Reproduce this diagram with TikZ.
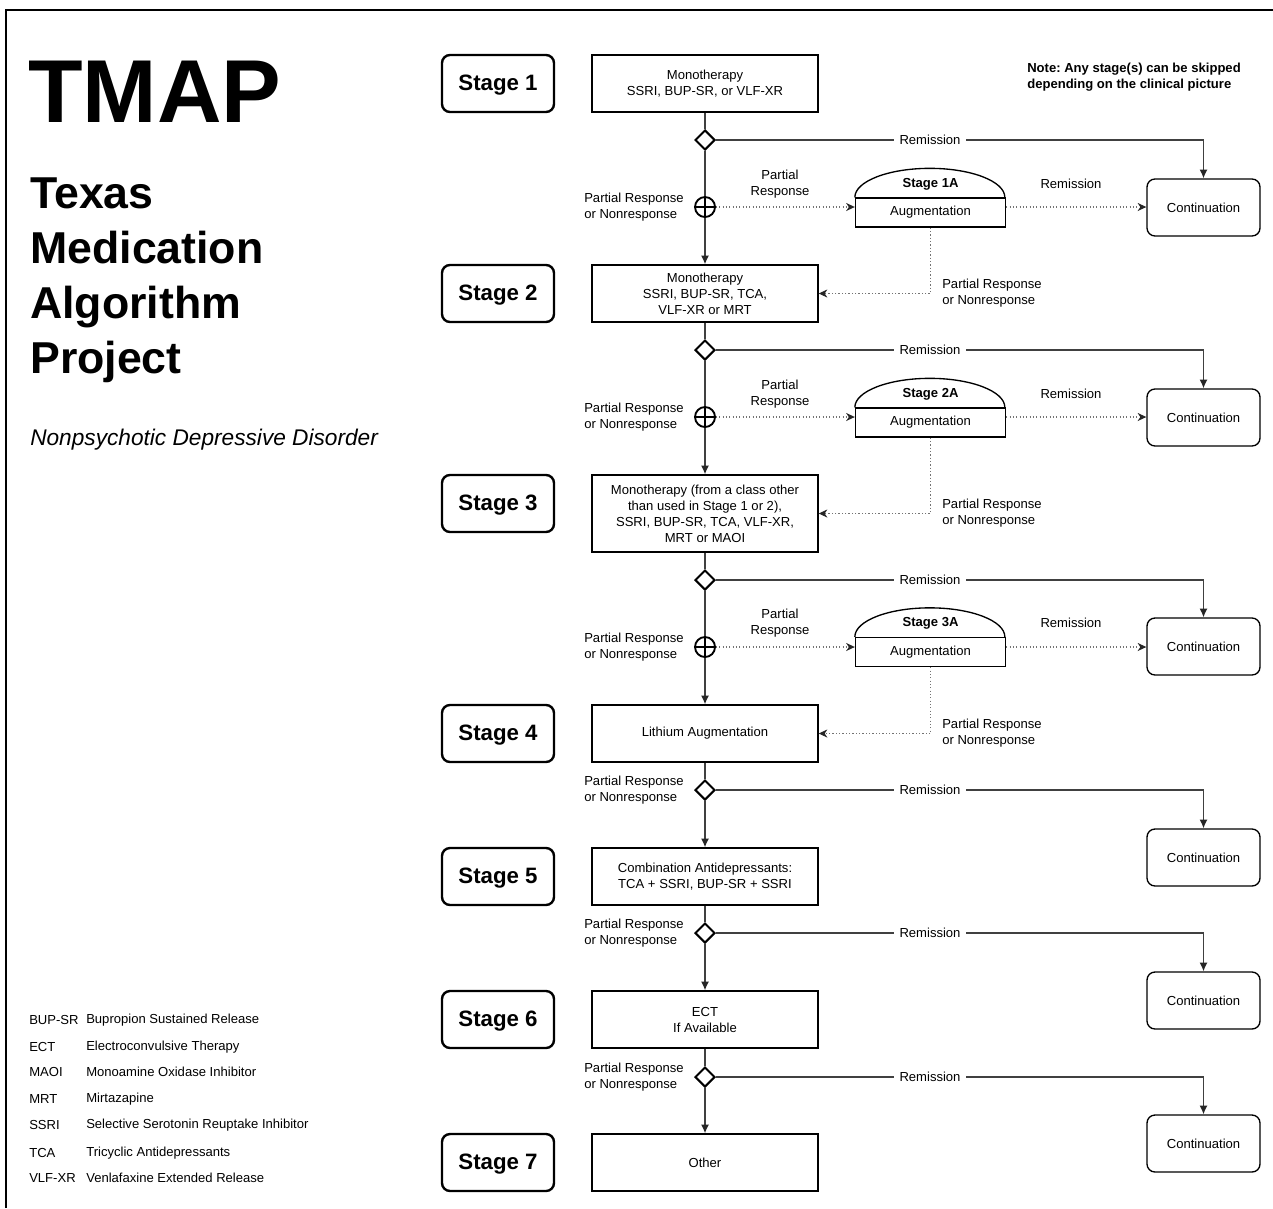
\documentclass[tikz,border=0pt]{standalone}
\usepackage{fontspec}
\setmainfont{Liberation Sans}
\usetikzlibrary{shapes.geometric,arrows.meta,calc}
\newcommand\bodyf{\fontsize{9.8pt}{12pt}\selectfont}
\newcommand\stagef{\fontsize{16.7pt}{20pt}\bfseries\selectfont}
\frenchspacing
\begin{document}
\begin{tikzpicture}[x=0.75pt,y=-0.75pt,
  conn/.style={draw=black!75, line width=1.1pt},
  arr/.style={conn, -{Latex[length=6.5pt,width=6pt,color=black!85]}},
  dotline/.style={draw=black!55, line width=0.9pt, dash pattern=on 0.9pt off 1.6pt},
  dotarr/.style={dotline, -{Stealth[length=6.5pt,width=6pt,inset=2pt,color=black!85]}},
  mainbox/.style={draw, line width=1pt, minimum width=169.5pt, minimum height=42.75pt, align=center, font=\bodyf, inner sep=2pt},
  stagebox/.style={draw, line width=1.8pt, rounded corners=6pt, minimum width=84pt, minimum height=42.75pt, font=\stagef, text height=12pt, text depth=1pt},
  contbox/.style={draw, line width=1pt, rounded corners=6pt, minimum width=84.75pt, minimum height=42.75pt, font=\bodyf},
  decis/.style={draw, diamond, line width=1.5pt, minimum width=15pt, minimum height=15pt, inner sep=0pt, fill=white},
  plusc/.style={draw, circle, line width=1.4pt, minimum size=15pt, inner sep=0pt, fill=white},
  augbox/.style={draw, line width=1pt, minimum width=112.5pt, minimum height=21.75pt, font=\bodyf, inner sep=0pt},
  lbl/.style={font=\bodyf, align=left, inner sep=0pt, anchor=west},
  clbl/.style={font=\bodyf, align=center, inner sep=0pt},
  remlbl/.style={font=\bodyf, fill=white, inner xsep=4pt, inner ysep=1pt},
  augtitle/.style={font=\bodyf\bfseries, inner sep=0pt},
  legabbr/.style={font=\bodyf, anchor=west, inner sep=0pt},
]
\useasboundingbox (0,0) rectangle (1273,1208);
\draw[line width=1.2pt] (6,1208) -- (6,10) -- (1273,10);

% Title block
\node[anchor=base west, inner sep=0pt, font=\fontsize{67pt}{67pt}\bfseries\selectfont] (tmap) at (28,122) {TMAP};
\node[anchor=base west, inner sep=0pt, font=\fontsize{33.5pt}{40pt}\bfseries\selectfont] (t1) at (30,208) {Texas};
\node[anchor=base west, inner sep=0pt, font=\fontsize{33.5pt}{40pt}\bfseries\selectfont] (t2) at (30,263) {Medication};
\node[anchor=base west, inner sep=0pt, font=\fontsize{33.5pt}{40pt}\bfseries\selectfont] (t3) at (30,318) {Algorithm};
\node[anchor=base west, inner sep=0pt, font=\fontsize{33.5pt}{40pt}\bfseries\selectfont] (t4) at (30,373) {Project};
\node[anchor=base west, inner sep=0pt, font=\fontsize{17pt}{20pt}\itshape\selectfont] (sub) at (30,445) {Nonpsychotic Depressive Disorder};

% Note
\node[lbl, font=\bodyf\bfseries] (note) at (1027,77) {Note: Any stage(s) can be skipped\\depending on the clinical picture};

% Legend
\node[legabbr] (la1) at (29,1020) {BUP-SR}; \node[legabbr] (ld1) at (86,1020) {Bupropion Sustained Release};
\node[legabbr] (la2) at (29,1047) {ECT};    \node[legabbr] (ld2) at (86,1047) {Electroconvulsive Therapy};
\node[legabbr] (la3) at (29,1072) {MAOI};   \node[legabbr] (ld3) at (86,1072) {Monoamine Oxidase Inhibitor};
\node[legabbr] (la4) at (29,1099) {MRT};    \node[legabbr] (ld4) at (86,1099) {Mirtazapine};
\node[legabbr] (la5) at (29,1125) {SSRI};   \node[legabbr] (ld5) at (86,1125) {Selective Serotonin Reuptake Inhibitor};
\node[legabbr] (la6) at (29,1153) {TCA};    \node[legabbr] (ld6) at (86,1153) {Tricyclic Antidepressants};
\node[legabbr] (la7) at (29,1178) {VLF-XR}; \node[legabbr] (ld7) at (86,1178) {Venlafaxine Extended Release};

% Stage labels
\node[stagebox] (s1) at (498,83.5) {Stage 1};
\node[stagebox] (s2) at (498,293.5) {Stage 2};
\node[stagebox] (s3) at (498,503.5) {Stage 3};
\node[stagebox] (s4) at (498,733.5) {Stage 4};
\node[stagebox] (s5) at (498,876.5) {Stage 5};
\node[stagebox] (s6) at (498,1019.5) {Stage 6};
\node[stagebox] (s7) at (498,1162.5) {Stage 7};

% Main boxes
\node[mainbox] (b1) at (705,83.5) {Monotherapy\\SSRI, BUP-SR, or VLF-XR};
\node[mainbox] (b2) at (705,293.5) {Monotherapy\\SSRI, BUP-SR, TCA,\\VLF-XR or MRT};
\node[mainbox, minimum height=57.75pt] (b3) at (705,513.5) {Monotherapy (from a class other\\than used in Stage 1 or 2),\\SSRI, BUP-SR, TCA, VLF-XR,\\MRT or MAOI};
\node[mainbox] (b4) at (705,733.5) {Lithium Augmentation};
\node[mainbox] (b5) at (705,876.5) {Combination Antidepressants:\\TCA + SSRI, BUP-SR + SSRI};
\node[mainbox] (b6) at (705,1019.5) {ECT\\If Available};
\node[mainbox] (b7) at (705,1162.5) {Other};

% Decision diamonds and circled plus
\node[decis] (d1) at (705,140) {};
\node[decis] (d2) at (705,350) {};
\node[decis] (d3) at (705,580) {};
\node[decis] (d4) at (705,790) {};
\node[decis] (d5) at (705,933) {};
\node[decis] (d6) at (705,1077) {};
\node[plusc] (c1) at (705,207) {};
\node[plusc] (c2) at (705,417) {};
\node[plusc] (c3) at (705,647) {};

% Augmentation shapes
\node[augbox] (a1) at (930.5,212.5) {Augmentation};
\node[augbox] (a2) at (930.5,422.5) {Augmentation};
\node[augbox] (a3) at (930.5,652) {Augmentation};
\foreach \a in {a1,a2,a3}{
  \draw[line width=1pt] (\a.north west) arc[start angle=180, end angle=0, x radius=56.25pt, y radius=21.75pt];
}
\node[augtitle] (a1t) at (930.5,184) {Stage 1A};
\node[augtitle] (a2t) at (930.5,394) {Stage 2A};
\node[augtitle] (a3t) at (930.5,623.5) {Stage 3A};

% Continuation boxes
\node[contbox] (k1) at (1203.5,207.5) {Continuation};
\node[contbox] (k2) at (1203.5,417.5) {Continuation};
\node[contbox] (k3) at (1203.5,646.5) {Continuation};
\node[contbox] (k4) at (1203.5,857.5) {Continuation};
\node[contbox] (k5) at (1203.5,1000.5) {Continuation};
\node[contbox] (k6) at (1203.5,1143.5) {Continuation};

% Main vertical flow
\draw[conn] (b1.south) -- (d1.north);
\draw[conn] (d1.south) -- (c1.north);
\draw[arr] (c1.south) -- (b2.north);
\draw[conn] (b2.south) -- (d2.north);
\draw[conn] (d2.south) -- (c2.north);
\draw[arr] (c2.south) -- (b3.north);
\draw[conn] (b3.south) -- (d3.north);
\draw[conn] (d3.south) -- (c3.north);
\draw[arr] (c3.south) -- (b4.north);
\draw[conn] (b4.south) -- (d4.north);
\draw[arr] (d4.south) -- (b5.north);
\draw[conn] (b5.south) -- (d5.north);
\draw[arr] (d5.south) -- (b6.north);
\draw[conn] (b6.south) -- (d6.north);
\draw[arr] (d6.south) -- (b7.north);

% circled plus bars
\foreach \c in {c1,c2,c3}{
  \draw[line width=1.4pt] (\c.west) -- (\c.east);
  \draw[line width=1.4pt] (\c.north) -- (\c.south);
}

% Remission lines
\foreach \d/\k in {d1/k1,d2/k2,d3/k3,d4/k4,d5/k5,d6/k6}{
  \draw[arr] (\d.east) -| (\k.north);
}
\node[remlbl] (r1) at (930,140) {Remission};
\node[remlbl] (r2) at (930,350) {Remission};
\node[remlbl] (r3) at (930,580) {Remission};
\node[remlbl] (r4) at (930,790) {Remission};
\node[remlbl] (r5) at (930,933) {Remission};
\node[remlbl] (r6) at (930,1077) {Remission};

% Dotted augmentation paths
\foreach \c/\a/\k/\b in {c1/a1/k1/b2,c2/a2/k2/b3,c3/a3/k3/b4}{
  \draw[dotarr] (\c.east) -- (\c.east -| \a.west);
  \draw[dotarr] (\c.east -| \a.east) -- (\c.east -| \k.west);
  \draw[dotarr] (\a.south) |- (\b.east);
}

% Labels
\node[clbl] (pr1) at (780,184) {Partial\\Response};
\node[clbl] (pr2) at (780,394) {Partial\\Response};
\node[clbl] (pr3) at (780,623.5) {Partial\\Response};
\node[clbl] (rm1) at (1071,183.5) {Remission};
\node[clbl] (rm2) at (1071,393.5) {Remission};
\node[clbl] (rm3) at (1071,623) {Remission};

\node[lbl] (l1) at (584,207.5) {Partial Response\\or Nonresponse};
\node[lbl] (l2) at (584,417.5) {Partial Response\\or Nonresponse};
\node[lbl] (l3) at (584,647) {Partial Response\\or Nonresponse};
\node[lbl] (l4) at (584,790.5) {Partial Response\\or Nonresponse};
\node[lbl] (l5) at (584,933.5) {Partial Response\\or Nonresponse};
\node[lbl] (l6) at (584,1077.5) {Partial Response\\or Nonresponse};

\node[lbl] (q1) at (942,293.5) {Partial Response\\or Nonresponse};
\node[lbl] (q2) at (942,513.5) {Partial Response\\or Nonresponse};
\node[lbl] (q3) at (942,733.5) {Partial Response\\or Nonresponse};
\end{tikzpicture}
\end{document}
